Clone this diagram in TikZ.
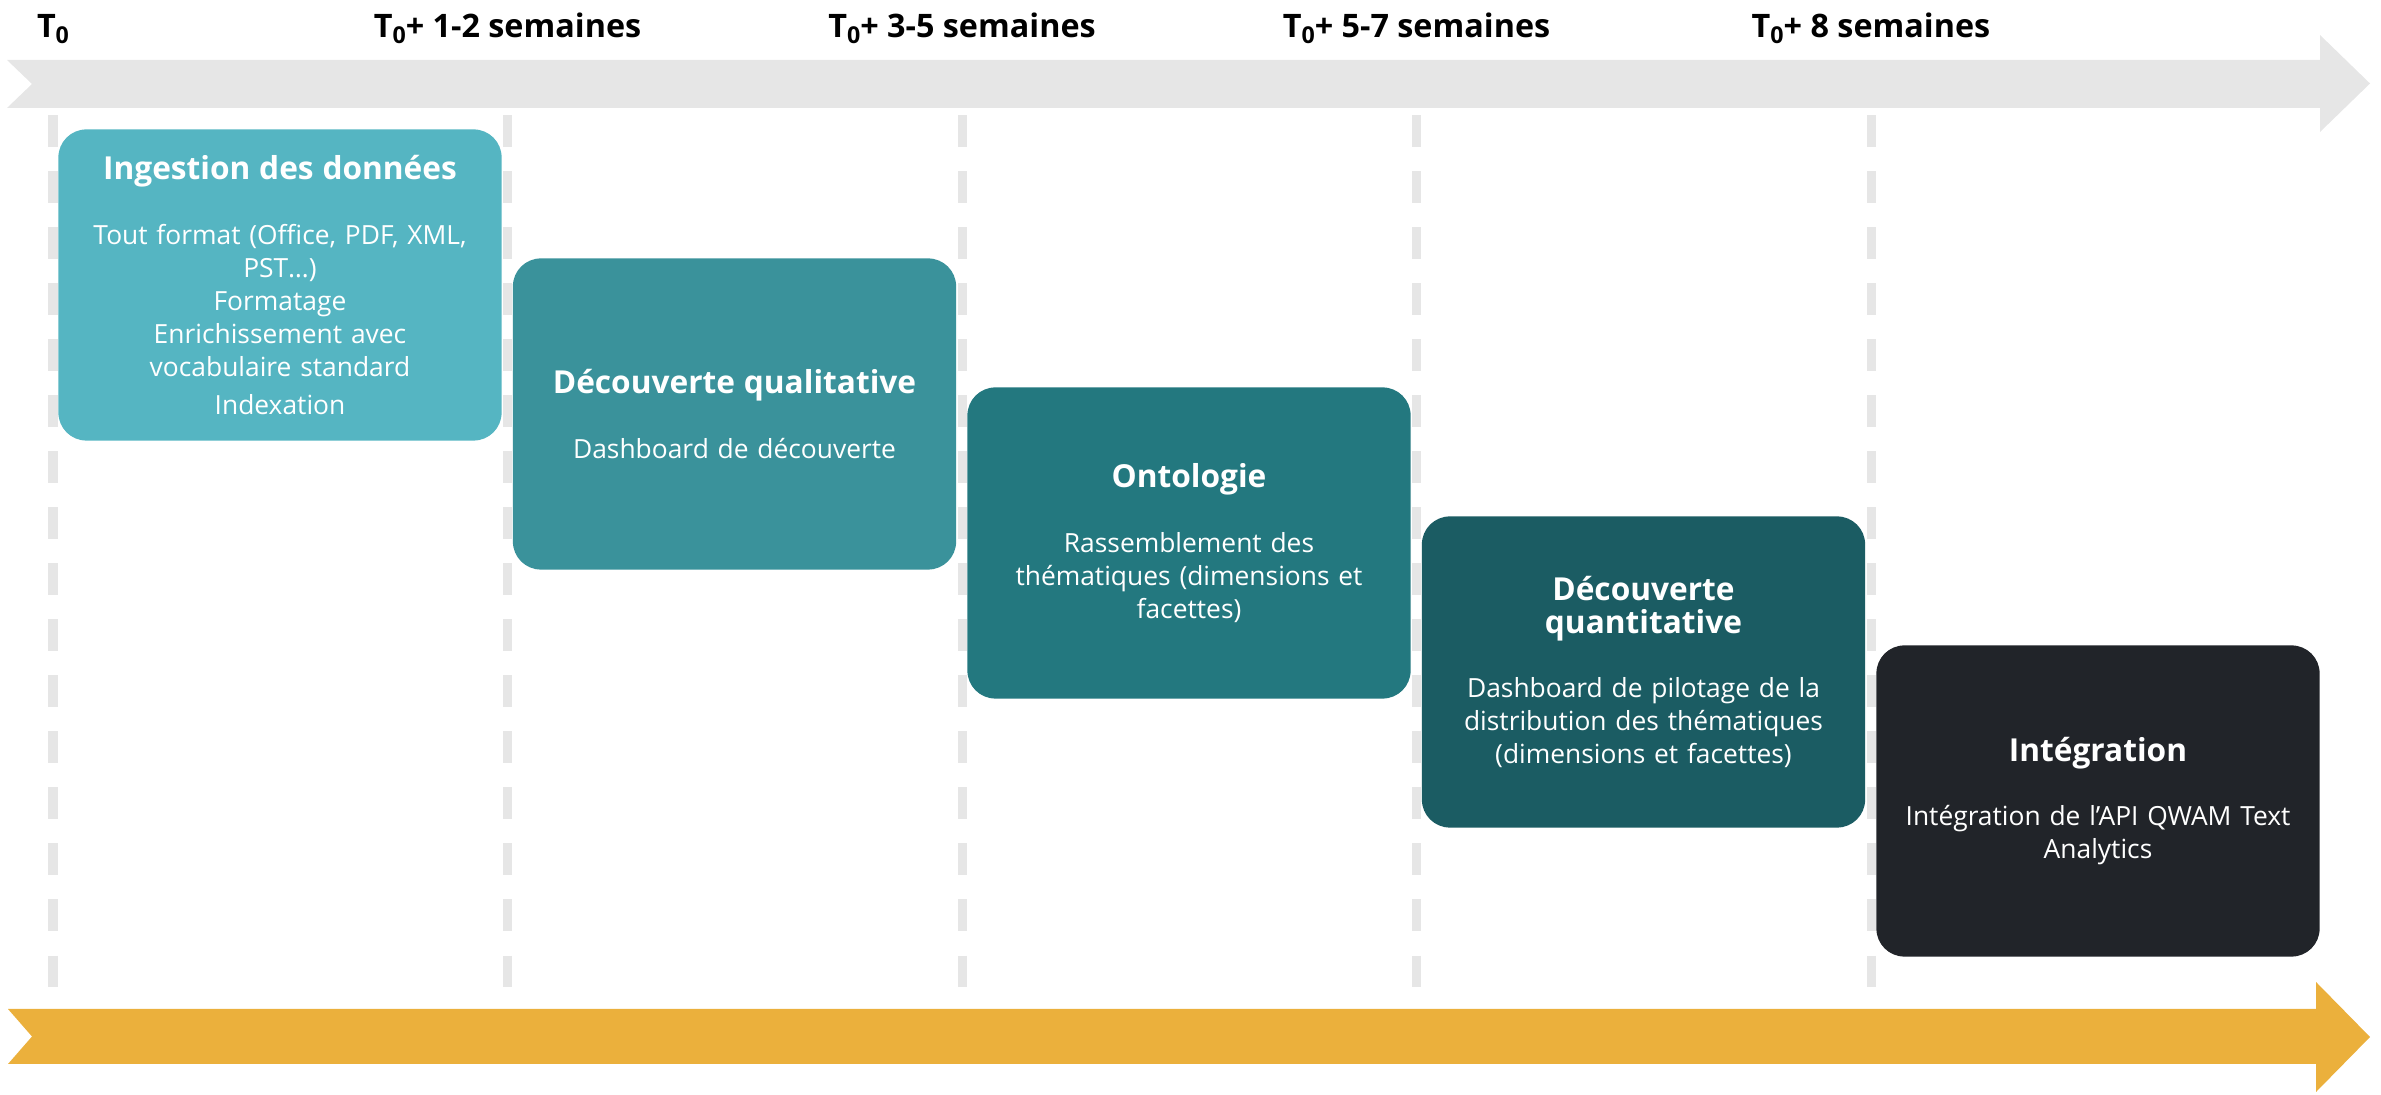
\documentclass[tikz,border=0pt]{standalone}
\usepackage{fontspec}
\setmainfont{Open Sans}
\newfontfamily\weekfont{Open Sans}

\definecolor{phaseA}{HTML}{55B5C2}
\definecolor{phaseB}{HTML}{3A929B}
\definecolor{phaseC}{HTML}{23787F}
\definecolor{phaseD}{HTML}{1B5C63}
\definecolor{phaseE}{HTML}{212429}
\definecolor{railgray}{HTML}{E6E6E6}
\definecolor{railgold}{HTML}{EBB03C}

\newcommand{\Tzero}{T\raisebox{-0.3ex}{\fontsize{6.6}{7}\selectfont 0}}
\newcommand{\ptitle}{\bfseries\fontsize{9}{11}\selectfont}

\begin{document}
\begin{tikzpicture}[x=0.01cm, y=-0.01cm,
    phase/.style={rectangle, rounded corners=0.28cm, minimum width=4.43cm,
        minimum height=3.11cm, text width=4.2cm, align=center, text=white,
        font=\fontsize{7.5}{9.4}\selectfont, inner sep=0pt},
    weeklabel/.style={anchor=base, font=\weekfont\bfseries\fontsize{9.2}{11}\selectfont},
    guide/.style={railgray, line width=0.09cm, dash pattern=on 0.32cm off 0.24cm}]
            \useasboundingbox (0, 0) rectangle (2381, 1095);
            \pgfmathsetmacro{\dx}{454.5}
            \pgfmathsetmacro{\dy}{129}

            % week marks
            \coordinate (W0) at ({53+\dx*0}, 38);
            \coordinate (W1) at ({53+\dx*1}, 38);
            \coordinate (W2) at ({53+\dx*2}, 38);
            \coordinate (W3) at ({53+\dx*3}, 38);
            \coordinate (W4) at ({53+\dx*4}, 38);

            % box centres
            \coordinate (B1) at ({280+\dx*0}, {285+\dy*0});
            \coordinate (B2) at ({280+\dx*1}, {285+\dy*1});
            \coordinate (B3) at ({280+\dx*2}, {285+\dy*2});
            \coordinate (B4) at ({280+\dx*3}, {285+\dy*3});
            \coordinate (B5) at ({280+\dx*4}, {285+\dy*4});

            \fill[railgray] (7, 60) -- (2320, 60) -- (2320, 35) -- (2370, 83.5)
                -- (2320, 132) -- (2320, 108) -- (7, 108) -- (32, 84) -- cycle;
            \fill[railgold] (8, 1009) -- (2316, 1009) -- (2316, 982) -- (2370, 1037)
                -- (2316, 1092) -- (2316, 1064) -- (8, 1064) -- (32, 1036.5) -- cycle;

            \draw[guide] (W0 |- 0, 115) -- (W0 |- 0, 987);
            \draw[guide] (W1 |- 0, 115) -- (W1 |- 0, 987);
            \draw[guide] (W2 |- 0, 115) -- (W2 |- 0, 987);
            \draw[guide] (W3 |- 0, 115) -- (W3 |- 0, 987);
            \draw[guide] (W4 |- 0, 115) -- (W4 |- 0, 987);

            \node[weeklabel] (t0) at (W0) {\Tzero};
            \node[weeklabel] (t1) at (W1) {\Tzero+ 1-2 semaines};
            \node[weeklabel] (t2) at (W2) {\Tzero+ 3-5 semaines};
            \node[weeklabel] (t3) at (W3) {\Tzero+ 5-7 semaines};
            \node[weeklabel] (t4) at (W4) {\Tzero+ 8 semaines};

            \node[phase, fill=phaseA] (ingest) at (B1) {{\ptitle Ingestion des données}\\[9pt]
                Tout format (Office, PDF, XML,\\PST…)\\Formatage\\Enrichissement avec\\vocabulaire standard\\[1.5pt]Indexation};
            \node[phase, fill=phaseB] (quali) at (B2) {{\ptitle Découverte qualitative}\\[9pt]
                Dashboard de découverte};
            \node[phase, fill=phaseC] (onto) at (B3) {{\ptitle Ontologie}\\[9pt]
                Rassemblement des\\thématiques (dimensions et\\facettes)};
            \node[phase, fill=phaseD] (quanti) at (B4) {{\ptitle Découverte\\quantitative}\\[9pt]
                Dashboard de pilotage de la\\distribution des thématiques\\(dimensions et facettes)};
            \node[phase, fill=phaseE] (integ) at (B5) {{\ptitle Intégration}\\[9pt]
                Intégration de l’API QWAM Text\\Analytics};
        \end{tikzpicture}
\end{document}
